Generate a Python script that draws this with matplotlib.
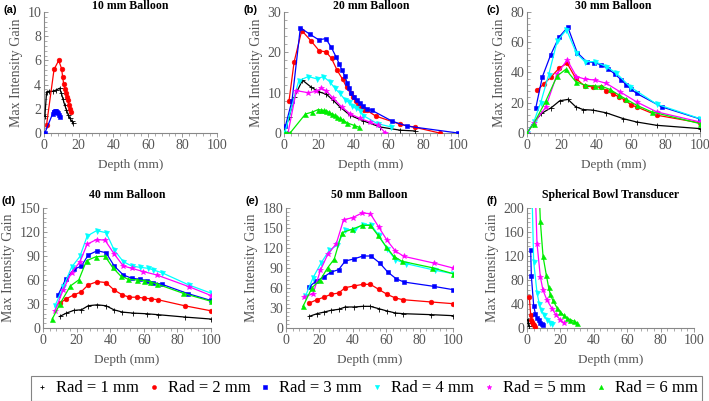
import matplotlib
matplotlib.use("Agg")
import matplotlib.pyplot as plt
from matplotlib.ticker import AutoMinorLocator, MultipleLocator
from matplotlib.lines import Line2D

# ---------------- data ----------------
labels = ["Rad = 1 mm", "Rad = 2 mm", "Rad = 3 mm", "Rad = 4 mm", "Rad = 5 mm", "Rad = 6 mm"]
colors = ["#000000", "#ff0000", "#0000ff", "#00ffff", "#ff00ff", "#00ee00"]
markers = ["+", "o", "s", "v", "*", "^"]

titles = ["10 mm Balloon", "20 mm Balloon", "30 mm Balloon",
          "40 mm Balloon", "50 mm Balloon", "Spherical Bowl Transducer"]
panel_tags = ["(a)", "(b)", "(c)", "(d)", "(e)", "(f)"]
ymax = [10, 30, 80, 150, 180, 200]
ystep = [2, 10, 20, 30, 30, 40]

# Panel (a) 10 mm balloon
a_x1 = [0.5, 1.5, 3, 5, 7, 9, 10, 11, 12, 13, 14, 15, 16, 17]
a_y1 = [1.4, 3.4, 3.45, 3.45, 3.55, 3.7, 3.3, 2.8, 2.3, 1.9, 1.5, 1.2, 1.0, 0.8]
a_x2 = [1.5, 5.8, 8.5, 10.2, 10.8, 11.4, 12.2, 12.8, 13.2, 13.8, 14.3, 15.0, 15.4]
a_y2 = [0.7, 5.25, 6.0, 5.3, 4.6, 4.05, 3.6, 3.3, 3.0, 2.7, 2.3, 2.0, 1.7]
a_x3 = [0.5, 5.0, 5.5, 6.0, 6.5, 7.0, 7.5, 8.0, 8.5, 9.0]
a_y3 = [0.0, 1.6, 1.7, 1.75, 1.78, 1.78, 1.72, 1.62, 1.5, 1.3]

# Panel (b) 20 mm balloon
b_x1 = [0, 3, 6, 10.6, 15.8, 20.2, 24.4, 28.3, 32.1, 37.9, 45.6, 55.2, 66.7, 75.4]
b_y1 = [0, 4, 9, 13.1, 11.3, 10.2, 9.6, 8.1, 6.5, 4.4, 3.0, 1.5, 0.7, 0.5]
b_x2 = [2.9, 5.8, 10.2, 15.4, 20.2, 24.2, 27.3, 30.6, 33.7, 36.0, 38.3, 39.8, 41.3,
        42.7, 44.2, 45.8, 47.7, 52.7, 66.5, 75.4, 89.4]
b_y2 = [8.0, 17.6, 25.4, 22.9, 20.4, 20.1, 18.5, 15.5, 13.3, 11.3, 9.8, 8.9, 7.9,
        6.9, 6.3, 5.8, 5.6, 4.2, 2.2, 1.4, 0.0]
b_x3 = [0.8, 4.6, 9.4, 14.8, 20.0, 24.0, 27.1, 30.0, 31.7, 33.3, 35.0, 36.3, 37.5,
        38.7, 40.0, 41.7, 43.5, 45.2, 47.7, 50.6, 62.3, 70.8, 100]
b_y3 = [1.7, 8.0, 26.1, 24.5, 23.1, 23.4, 21.3, 18.8, 17.2, 15.6, 14.1, 12.4, 11.1,
        9.8, 8.9, 8.1, 7.5, 6.6, 6.0, 5.6, 2.9, 1.7, 0.0]
b_x4 = [0.4, 8.5, 14.0, 19.0, 22.5, 26.3, 29.2, 32.1, 35.0, 37.1, 39.0, 41.3, 43.7,
        45.6, 53.8, 61.7]
b_y4 = [0.0, 13.0, 14.0, 13.4, 14.0, 12.7, 11.1, 9.8, 8.3, 7.6, 6.6, 6.1, 5.5,
        4.3, 2.3, 1.5]
b_x5 = [2.3, 7.1, 13.8, 18.3, 21.5, 24.4, 28.3, 33.1, 37.9, 43.7, 49.4, 54.2, 58.3]
b_y5 = [0.0, 10.5, 10.0, 10.3, 11.1, 10.4, 8.6, 6.5, 4.8, 3.6, 2.7, 1.9, 0.0]
b_x6 = [0.5, 2.0, 3.5, 12.3, 16.3, 19.6, 21.5, 23.0, 24.4, 26.0, 27.3, 29.2, 30.6,
        32.1, 34.0, 36.3, 40.2, 43.3]
b_y6 = [0.0, 0.0, 0.0, 4.7, 5.2, 5.8, 5.7, 5.6, 5.5, 5.1, 4.8, 4.4, 4.0,
        3.6, 3.2, 2.5, 1.9, 1.4]

# Panel (c) 30 mm balloon
c_x1 = [0, 3.5, 8.3, 14.1, 18.9, 23.7, 28.2, 32.4, 38.2, 45.9, 55.6, 63.3, 74.9, 100]
c_y1 = [0, 6.2, 12.9, 16.8, 21.3, 22.2, 17.3, 15.5, 15.1, 13.3, 9.5, 7.3, 5.1, 2.9]
c_x2 = [6.0, 9.7, 14.1, 18.5, 23.2, 28.2, 33.4, 38.2, 43.0, 45.9, 49.8, 53.3, 56.6,
        60.4, 63.3, 74.9, 100]
c_y2 = [28.4, 32.4, 37.3, 42.8, 46.1, 36.1, 31.0, 30.6, 30.2, 27.9, 25.7, 23.9, 21.7,
        18.4, 17.3, 11.8, 6.7]
c_x3 = [5.0, 8.9, 13.7, 18.5, 23.6, 29.0, 34.4, 38.6, 43.0, 46.9, 50.8, 54.6, 57.5,
        60.4, 63.3, 77.8, 100]
c_y3 = [16.2, 37.2, 51.7, 63.4, 70.0, 53.2, 47.2, 46.6, 45.0, 42.4, 39.0, 35.0, 31.7,
        28.8, 26.2, 17.3, 9.3]
c_x4 = [0, 3.9, 7.9, 12.5, 17.4, 22.8, 28.6, 33.4, 39.2, 45.9, 51.7, 59.5, 74.9, 100]
c_y4 = [0, 7.3, 20.0, 38.4, 60.5, 68.3, 52.8, 47.2, 47.2, 43.9, 39.5, 30.6, 19.1, 9.5]
c_x5 = [0, 3.9, 10.8, 17.4, 23.2, 28.6, 33.4, 39.2, 45.9, 53.7, 63.3, 74.9, 100]
c_y5 = [0, 6.5, 17.0, 39.0, 48.3, 37.3, 35.7, 35.0, 32.8, 27.3, 20.6, 14.0, 7.3]
c_x6 = [0, 3.9, 10.8, 17.4, 22.4, 28.2, 33.4, 39.2, 43.0, 47.9, 53.3, 57.5, 63.3, 72.0, 100]
c_y6 = [0, 6.2, 21.0, 37.7, 42.1, 33.9, 31.7, 31.0, 31.0, 28.8, 25.0, 22.2, 18.4, 14.0, 6.2]

# Panel (d) 40 mm balloon
d_x1 = [10, 13.9, 18.3, 22.9, 26.9, 32.3, 37.5, 42.2, 47.2, 53.8, 61.8, 68.7, 84.3, 100]
d_y1 = [14.5, 18.6, 22.0, 22.8, 27.8, 29.0, 27.8, 22.8, 19.9, 18.6, 17.8, 16.6, 13.7, 11.2]
d_x2 = [10, 13.9, 18.3, 22.5, 26.9, 32.3, 37.5, 42.2, 47.2, 51.4, 56.2, 60.2, 64.3,
        68.7, 84.3, 100]
d_y2 = [31.1, 36.5, 41.4, 44.8, 53.9, 58.0, 56.8, 47.7, 41.4, 38.5, 38.5, 37.3, 36.5,
        35.2, 27.8, 21.5]
d_x3 = [9, 13.5, 18.3, 22.9, 26.9, 32.3, 37.5, 42.4, 47.8, 52.8, 57.8, 61.8, 65.7,
        70.7, 86.1, 100]
d_y3 = [41.4, 60.9, 73.3, 77.5, 91.2, 96.6, 94.1, 77.5, 66.3, 62.2, 60.9, 59.3, 56.8,
        54.7, 43.1, 34.4]
d_x4 = [7, 12, 17, 22, 26.3, 31.9, 37.5, 42.4, 47.8, 52.8, 57.8, 62.7, 65.7, 70.7, 86.7, 100]
d_y4 = [27, 51, 76, 89.5, 115, 121.7, 119.2, 97.4, 82.9, 77.5, 75.8, 74.6, 72.5, 69.2, 53.9, 43.5]
d_x5 = [7, 12, 17, 22, 26.3, 31.9, 36.9, 42.4, 47.8, 52.8, 59.8, 67.7, 86.7, 100]
d_y5 = [20.7, 47.7, 69.2, 82.9, 104.8, 110.6, 109.8, 92.4, 77.5, 74.6, 70.5, 66.3, 51.8, 40.6]
d_x6 = [5.6, 10, 16.3, 21.3, 25.9, 31.5, 36.9, 41.4, 46.2, 50.8, 55.8, 60.2, 63.7,
        67.7, 83.3, 100]
d_y6 = [11.6, 29.8, 52.6, 60.1, 84.1, 89.1, 89.9, 75.8, 65.1, 60.9, 60.1, 59.3, 58.0,
        55.1, 43.5, 33.4]

# Panel (e) 50 mm balloon
e_x1 = [14, 18.6, 23, 26.9, 31.5, 35.5, 40.5, 46.1, 50.5, 55.5, 60.5, 65.5, 69.9, 87.1, 100]
e_y1 = [17.5, 21.5, 24, 26.5, 28, 31.5, 31.5, 32.5, 32.5, 29, 25.5, 22.5, 21.5, 20, 18.5]
e_x2 = [14, 18.6, 23, 26.9, 31.5, 35.5, 40.5, 46.1, 50.5, 55.5, 60.5, 65.5, 69.9, 87.1, 100]
e_y2 = [37.5, 42.5, 46.5, 50.5, 52.5, 60.5, 63, 65.5, 65.5, 58, 50.5, 45, 42.5, 39, 36.5]
e_x3 = [13.6, 18.2, 22.6, 27.1, 31.5, 35.5, 40.5, 46.1, 50.9, 56.1, 60.9, 65.9, 70.5, 88.4, 100]
e_y3 = [61.5, 70.5, 76.5, 84, 87.5, 100.5, 103.5, 108, 108, 97.5, 84, 74, 69, 62.5, 57.5]
e_x4 = [11.6, 16.2, 21, 25.9, 30.5, 35.5, 40.9, 45.9, 50.9, 55.5, 60.5, 65.5, 71.9, 89.4, 100]
e_y4 = [47.5, 75.5, 97.5, 116.5, 124, 147.5, 147.5, 155, 155, 139, 119, 102.5, 96.5, 86.5, 81.5]
e_x5 = [11, 16.2, 20.6, 25, 30.1, 34.5, 39.9, 45.5, 50.5, 55.5, 60.5, 65.5, 70.5, 88.4, 100]
e_y5 = [46.5, 51.5, 86.5, 110.5, 126.5, 162.5, 165.5, 172.5, 171.5, 151.5, 131.5, 115.5,
        107.5, 97.5, 90]
e_x6 = [10.2, 15.6, 20.6, 25, 28.9, 33.5, 39.5, 45.5, 50.5, 55.1, 60.1, 64.5, 69.5, 87.4, 100]
e_y6 = [32.5, 60.5, 72.5, 90.5, 103.5, 143, 148, 154, 154, 139, 121.5, 107.5, 100, 90.5, 81.5]

# Panel (f) spherical bowl transducer
f_x1 = [0.4, 0.8, 1.2]
f_y1 = [14, 8, 4]
f_x2 = [1.4, 2.2, 2.6, 3.0, 3.4, 4.0, 4.6]
f_y2 = [51.7, 21.1, 13.9, 10.0, 7.2, 4.4, 1.7]
f_x3 = [2.2, 2.6, 4.0, 5.0, 6.0, 7.0, 8.0, 9.0, 9.6]
f_y3 = [130.6, 86.7, 37.2, 23.9, 16.7, 12.8, 8.9, 6.1, 4.4]
f_x4 = [2.7, 4.0, 6.0, 7.4, 8.6, 10.0, 12.0, 14.0, 15.0]
f_y4 = [260, 110, 58.9, 39.4, 30.6, 21.1, 12.8, 8.3, 7.2]
f_x5 = [4.6, 6.0, 8.0, 9.6, 12.0, 15.0, 17.5, 19.9, 22.0]
f_y5 = [260, 140.6, 85.0, 62.8, 46.1, 32.2, 21.1, 13.9, 8.3]
f_x6 = [7.0, 8.0, 9.6, 11.6, 12.9, 13.9, 15.3, 17.9, 19.9, 21.9, 23.9, 25.9, 27.9, 29.9]
f_y6 = [250, 177.8, 119.4, 87.8, 68.3, 56.1, 47.2, 33.9, 26.7, 21.1, 16.7, 13.9, 11.7, 8.9]

panels = [
    [(a_x1, a_y1), (a_x2, a_y2), (a_x3, a_y3)],
    [(b_x1, b_y1), (b_x2, b_y2), (b_x3, b_y3), (b_x4, b_y4), (b_x5, b_y5), (b_x6, b_y6)],
    [(c_x1, c_y1), (c_x2, c_y2), (c_x3, c_y3), (c_x4, c_y4), (c_x5, c_y5), (c_x6, c_y6)],
    [(d_x1, d_y1), (d_x2, d_y2), (d_x3, d_y3), (d_x4, d_y4), (d_x5, d_y5), (d_x6, d_y6)],
    [(e_x1, e_y1), (e_x2, e_y2), (e_x3, e_y3), (e_x4, e_y4), (e_x5, e_y5), (e_x6, e_y6)],
    [(f_x1, f_y1), (f_x2, f_y2), (f_x3, f_y3), (f_x4, f_y4), (f_x5, f_y5), (f_x6, f_y6)],
]

# ---------------- layout ----------------
W, H = 709, 401
boxes = [  # left, right, top, bottom in pixels
    (44, 217, 12, 133), (284, 458, 12, 133), (527, 700, 12, 133),
    (43, 211, 208, 328), (286, 453, 208, 328), (527, 694, 208, 328),
]
serif = "Liberation Serif"
tick_col = "#555555"
spine_col = "#888888"

fig = plt.figure(figsize=(W / 100, H / 100), dpi=100)
msize = [3.6, 3.4, 3.1, 3.6, 4.2, 3.6]

for i, (l, r, t, b) in enumerate(boxes):
    ax = fig.add_axes([l / W, 1 - b / H, (r - l) / W, (b - t) / H])
    for k, (xs, ys) in enumerate(panels[i]):
        ax.plot(xs, ys, color=colors[k], marker=markers[k], ms=msize[k],
                lw=0.9, mew=0.6 if markers[k] == "+" else 0.4, zorder=3 + k)
    ax.set_xlim(0, 100)
    ax.set_ylim(0, ymax[i])
    ax.xaxis.set_major_locator(MultipleLocator(20))
    ax.yaxis.set_major_locator(MultipleLocator(ystep[i]))
    ax.xaxis.set_minor_locator(AutoMinorLocator(5))
    ax.yaxis.set_minor_locator(AutoMinorLocator(5))
    for s in ["top", "right"]:
        ax.spines[s].set_visible(False)
    for s in ["left", "bottom"]:
        ax.spines[s].set_color(spine_col)
        ax.spines[s].set_linewidth(0.8)
    ax.tick_params(axis="x", which="major", direction="out", length=3, width=0.6,
                   color=spine_col, labelsize=10, labelcolor=tick_col, pad=1.5)
    ax.tick_params(axis="x", which="minor", direction="out", length=1.8, width=0.5,
                   color=spine_col)
    ax.tick_params(axis="y", which="major", direction="in", length=3, width=0.6,
                   color=spine_col, labelsize=10, labelcolor=tick_col, pad=2)
    ax.tick_params(axis="y", which="minor", direction="in", length=1.8, width=0.5,
                   color=spine_col)
    for lab in ax.get_xticklabels() + ax.get_yticklabels():
        lab.set_fontfamily(serif)
    ax.set_xlabel("Depth (mm)", fontfamily=serif, fontsize=9.5, color=tick_col, labelpad=5)
    ax.set_ylabel("Max Intensity Gain", fontfamily=serif, fontsize=10, color=tick_col,
                  labelpad=3)
    top_row = i < 3
    ax.set_title(titles[i], fontfamily=serif, fontweight="bold", fontsize=8.5,
                 pad=2 if top_row else 7)
    tag_y = (t - 2) if top_row else (t - 7)
    fig.text((l - 41) / W, 1 - tag_y / H, panel_tags[i], fontweight="bold",
             fontsize=8, ha="left", va="center", fontfamily="Liberation Sans")

handles = [Line2D([], [], color=colors[k], marker=markers[k], ls="none",
                  ms=msize[k] * 0.85, mew=0.6 if markers[k] == "+" else 0.4)
           for k in range(6)]
leg = fig.legend(handles, labels, ncol=6, loc="center",
                 bbox_to_anchor=(366.5 / W, 1 - 388.5 / H),
                 prop={"family": serif, "size": 12}, frameon=True, fancybox=False,
                 edgecolor="#666666", handlelength=0.8, handletextpad=0.44,
                 columnspacing=0.5, borderpad=0.25, borderaxespad=0)
leg.get_frame().set_linewidth(0.8)

fig.savefig("out.png", dpi=100)
